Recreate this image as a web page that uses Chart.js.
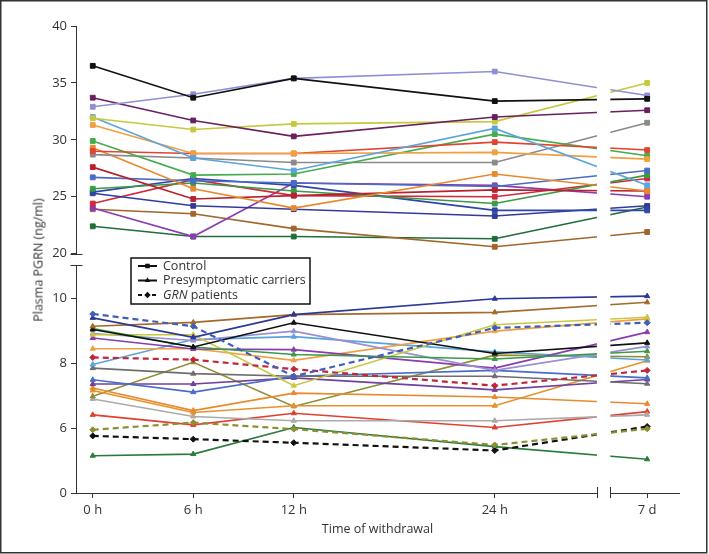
<!DOCTYPE html>
<html>
<head>
<meta charset="utf-8">
<script src="https://cdn.jsdelivr.net/npm/chart.js@4.4.1/dist/chart.umd.min.js"></script>
<style>
  html, body { margin: 0; padding: 0; background: #fff; }
  #wrap { position: relative; width: 709px; height: 554px; }
  #ytitle {
    position: absolute; left: 38px; top: 260px;
    transform: translate(-50%, -50%) rotate(-90deg);
    font: 12.5px 'Open Sans', sans-serif; color: #333; white-space: nowrap;
  }
</style>
</head>
<body>
<div id="wrap">
  <canvas id="pgrnChart" width="709" height="554"></canvas>
  <div id="ytitle">Plasma PGRN (ng/ml)</div>
</div>
<script>
// time points, 7 d sits just after the axis break
const timeLabels = ['0 h', '6 h', '12 h', '24 h', '7 d'];
const timePos = [0, 6, 12, 24, 33.1];
const gapFrom = 30.1, gapTo = 30.9;

const topTicks = [20, 25, 30, 35, 40];
const lowTicks = [4, 6, 8, 10];   // bottom tick is printed as "0"

// controls (upper panel)
const ctrlBlack    = [36.5, 33.7, 35.4, 33.4, 33.6];
const ctrlLavender = [32.9, 34.0, 35.4, 36.0, 33.9];
const ctrlPlum     = [33.7, 31.7, 30.3, 32.0, 32.6];
const ctrlYellow   = [31.9, 30.9, 31.4, 31.6, 35.0];
const ctrlSky      = [32.0, 28.4, 27.3, 31.0, 26.0];
const ctrlOrange   = [31.3, 28.8, 28.8, 28.9, 28.3];
const ctrlRed      = [29.0, 28.8, 28.8, 29.8, 29.1];
const ctrlGreen    = [29.9, 26.9, 27.0, 30.5, 28.6];
const ctrlGray     = [28.7, 28.4, 28.0, 28.0, 31.5];
const ctrlAmber    = [29.3, 25.7, 24.0, 27.0, 25.5];
const ctrlDarkRed  = [27.6, 24.8, 25.1, 25.6, 25.5];
const ctrlBlue     = [26.7, 26.4, 26.2, 25.9, 27.3];
const ctrlGreen2   = [25.7, 26.2, 25.5, 24.4, 26.9];
const ctrlNavy     = [25.4, 26.6, 26.0, 23.8, 23.8];
const ctrlNavy2    = [25.3, 24.2, 23.9, 23.3, 24.2];
const ctrlCrimson  = [24.4, 26.5, 25.1, 25.0, 26.6];
const ctrlPurple   = [24.0, 21.5, 26.2, 26.0, 25.0];
const ctrlBrown    = [23.9, 23.5, 22.2, 20.6, 21.9];
const ctrlForest   = [22.4, 21.5, 21.5, 21.3, 24.1];

// presymptomatic carriers (lower panel)
const preNavy     = [9.40, 8.80, 9.50, 9.99, 10.07];
const preBrown    = [9.14, 9.26, 9.50, 9.57, 9.88];
const preBlack    = [9.04, 8.50, 9.25, 8.30, 8.63];
const preGreen    = [9.07, 8.50, 8.27, 8.13, 8.37];
const preYellow   = [8.88, 8.88, 7.31, 9.19, 9.42];
const preLavender = [8.92, 8.70, 8.99, 7.78, 8.52];
const prePurple   = [8.78, 8.44, 8.42, 7.85, 8.96];
const preOrange   = [8.45, 8.45, 8.09, 8.99, 9.37];
const preSky      = [7.96, 8.73, 8.82, 8.35, 8.10];
const preGray     = [7.85, 7.68, 7.60, 7.60, 7.37];
const preBlue     = [7.49, 7.11, 7.60, 7.78, 7.55];
const prePurple2  = [7.36, 7.36, 7.55, 7.18, 7.50];
const preAmber    = [7.24, 6.54, 7.08, 6.96, 6.75];
const preOrange2  = [7.16, 6.48, 6.69, 6.69, 8.08];
const preOlive    = [6.98, 8.03, 6.67, 8.25, 8.20];
const preSilver   = [6.90, 6.36, 6.23, 6.23, 6.41];
const preRed      = [6.41, 6.10, 6.46, 6.02, 6.51];
const preForest   = [5.15, 5.20, 6.02, 5.43, 5.04];

// GRN patients (dashed)
const grnBlue  = [9.52, 9.14, 7.60, 9.09, 9.25];
const grnRed   = [8.18, 8.11, 7.82, 7.31, 7.78];
const grnOlive = [5.95, 6.17, 5.97, 5.48, 5.98];
const grnBlack = [5.76, 5.66, 5.55, 5.31, 6.05];

const textColor = '#333';
Chart.defaults.font.family = "'Open Sans', sans-serif";

function control(values, color) {
  return makeSet(values, color, 'yTop', 'rect', false);
}
function carrier(values, color) {
  return makeSet(values, color, 'yLow', 'triangle', false);
}
function patient(values, color) {
  return makeSet(values, color, 'yLow', 'rectRot', true);
}
function makeSet(values, color, axis, style, dashed) {
  return {
    data: values.map((v, i) => ({ x: timePos[i], y: v })),
    yAxisID: axis,
    borderColor: color,
    backgroundColor: color,
    borderWidth: dashed ? 2.2 : 1.6,
    borderDash: dashed ? [6, 4] : [],
    pointStyle: style,
    pointRadius: style === 'rect' ? 3.4 : 3,
    pointBorderWidth: 1,
    tension: 0
  };
}

const datasets = [
  control(ctrlBlack, '#111111'),
  control(ctrlLavender, '#8f90d2'),
  control(ctrlPlum, '#6a1f5e'),
  control(ctrlYellow, '#c8c83e'),
  control(ctrlSky, '#5ba4dc'),
  control(ctrlOrange, '#f0a040'),
  control(ctrlRed, '#e04432'),
  control(ctrlGreen, '#45ad4e'),
  control(ctrlGray, '#8a8a8a'),
  control(ctrlAmber, '#e8892e'),
  control(ctrlDarkRed, '#b8222e'),
  control(ctrlBlue, '#4a6cc4'),
  control(ctrlGreen2, '#3a9a46'),
  control(ctrlNavy, '#2f46a8'),
  control(ctrlNavy2, '#323c98'),
  control(ctrlCrimson, '#d02a3c'),
  control(ctrlPurple, '#8a3cb2'),
  control(ctrlBrown, '#a2652a'),
  control(ctrlForest, '#1f6e3a'),

  patient(grnBlue, '#3f5fb8'),
  patient(grnRed, '#c0283a'),
  patient(grnOlive, '#8e8e34'),
  patient(grnBlack, '#111111'),

  carrier(preNavy, '#2c3896'),
  carrier(preBrown, '#a46a2c'),
  carrier(preBlack, '#111111'),
  carrier(preGreen, '#3a9a48'),
  carrier(preYellow, '#c8c840'),
  carrier(preLavender, '#9890d0'),
  carrier(prePurple, '#8a3cb0'),
  carrier(preOrange, '#f0a040'),
  carrier(preSky, '#5aa4dc'),
  carrier(preGray, '#6e6e6e'),
  carrier(preBlue, '#4a6cc8'),
  carrier(prePurple2, '#7040a0'),
  carrier(preAmber, '#e88a30'),
  carrier(preOrange2, '#e8902c'),
  carrier(preOlive, '#8e8e34'),
  carrier(preSilver, '#aaaaaa'),
  carrier(preRed, '#e04030'),
  carrier(preForest, '#2a7a3a')
];

// axis breaks, legend box and frame
const brokenAxes = {
  id: 'brokenAxes',
  afterDatasetsDraw(chart) {
    const { ctx, chartArea, scales } = chart;
    const top = scales.yTop, low = scales.yLow;
    const g0 = scales.x.getPixelForValue(gapFrom);
    const g1 = scales.x.getPixelForValue(gapTo);
    ctx.save();
    ctx.fillStyle = '#fff';
    ctx.fillRect(g0, chartArea.top - 4, g1 - g0, chartArea.bottom - chartArea.top + 6);

    ctx.strokeStyle = textColor;
    ctx.lineWidth = 1;
    const ax = Math.round(chartArea.left) + 0.5;
    const y20 = Math.round(top.getPixelForValue(20)) + 0.5;
    const y40 = top.getPixelForValue(40);
    const lowTop = Math.round(low.top) + 0.5;
    const b = chartArea.bottom;
    ctx.beginPath();
    ctx.moveTo(ax, y40); ctx.lineTo(ax, y20);
    ctx.moveTo(ax - 6, y20); ctx.lineTo(ax + 6, y20);
    ctx.moveTo(ax - 6, lowTop); ctx.lineTo(ax + 6, lowTop);
    ctx.moveTo(ax, lowTop); ctx.lineTo(ax, b);
    ctx.moveTo(Math.round(g0) + 0.5, b - 6); ctx.lineTo(Math.round(g0) + 0.5, b + 5);
    ctx.moveTo(Math.round(g1) + 0.5, b - 6); ctx.lineTo(Math.round(g1) + 0.5, b + 5);
    ctx.stroke();
    ctx.restore();
  },
  afterDraw(chart) {
    const ctx = chart.ctx;
    ctx.save();
    // legend
    const L = 131, T = 258, W = 179, H = 46;
    ctx.fillStyle = '#fff';
    ctx.fillRect(L, T, W, H);
    ctx.strokeStyle = '#111';
    ctx.lineWidth = 1.5;
    ctx.strokeRect(L, T, W, H);
    const rows = [
      { y: 266, style: 'rect', dash: [], parts: [['normal', 'Control']] },
      { y: 280.5, style: 'triangle', dash: [], parts: [['normal', 'Presymptomatic carriers']] },
      { y: 295, style: 'rectRot', dash: [4, 3], parts: [['italic', 'GRN'], ['normal', ' patients']] }
    ];
    rows.forEach(r => {
      ctx.strokeStyle = '#111';
      ctx.fillStyle = '#111';
      ctx.lineWidth = 2;
      ctx.setLineDash(r.dash);
      ctx.beginPath();
      ctx.moveTo(138, r.y); ctx.lineTo(157, r.y);
      ctx.stroke();
      ctx.setLineDash([]);
      ctx.lineWidth = 1;
      Chart.helpers.drawPoint(ctx, { pointStyle: r.style, radius: 3.2, rotation: 0 }, 147.5, r.y);
      let tx = 163;
      ctx.fillStyle = textColor;
      ctx.textBaseline = 'middle';
      r.parts.forEach(([st, txt]) => {
        ctx.font = st + " 12.5px 'Open Sans', sans-serif";
        ctx.fillText(txt, tx, r.y);
        tx += ctx.measureText(txt).width;
      });
    });
    // frame
    ctx.strokeStyle = '#333';
    ctx.lineWidth = 1.5;
    ctx.strokeRect(0.75, 0.75, 706, 552);
    ctx.restore();
  }
};

const tickFont = { size: 13 };

new Chart(document.getElementById('pgrnChart'), {
  type: 'line',
  data: { datasets: datasets },
  plugins: [brokenAxes],
  options: {
    responsive: false,
    animation: false,
    layout: { padding: { top: 26, right: 30, bottom: 17, left: 0 } },
    plugins: { legend: { display: false }, tooltip: { enabled: false } },
    scales: {
      x: {
        type: 'linear', min: -1, max: 35,
        afterBuildTicks: s => { s.ticks = timePos.map(v => ({ value: v })); },
        afterFit: s => { s.height = 44; },
        ticks: { callback: (v, i) => timeLabels[i], font: tickFont, color: textColor, padding: 4, maxRotation: 0, autoSkip: false },
        grid: { drawOnChartArea: false, tickLength: 5, color: textColor },
        border: { color: textColor, width: 1 },
        title: { display: true, text: 'Time of withdrawal', font: { size: 12.5 }, color: textColor, padding: { top: 2, bottom: 0 } }
      },
      yTop: {
        type: 'linear', position: 'left', stack: 'pgrn', stackWeight: 239, weight: 2,
        min: 19, max: 40,
        afterBuildTicks: s => { s.ticks = topTicks.map(v => ({ value: v })); },
        afterFit: s => { s.width = 76; },
        ticks: { font: tickFont, color: textColor, padding: 4 },
        grid: { drawOnChartArea: false, tickLength: 5, color: textColor },
        border: { display: false }
      },
      yLow: {
        type: 'linear', position: 'left', stack: 'pgrn', stackWeight: 228, weight: 1,
        min: 4, max: 11.03,
        afterBuildTicks: s => { s.ticks = lowTicks.map(v => ({ value: v })); },
        afterFit: s => { s.width = 76; },
        ticks: { font: tickFont, color: textColor, padding: 4, callback: v => (v === 4 ? '0' : v) },
        grid: { drawOnChartArea: false, tickLength: 5, color: textColor },
        border: { display: false }
      }
    }
  }
});
</script>
</body>
</html>
